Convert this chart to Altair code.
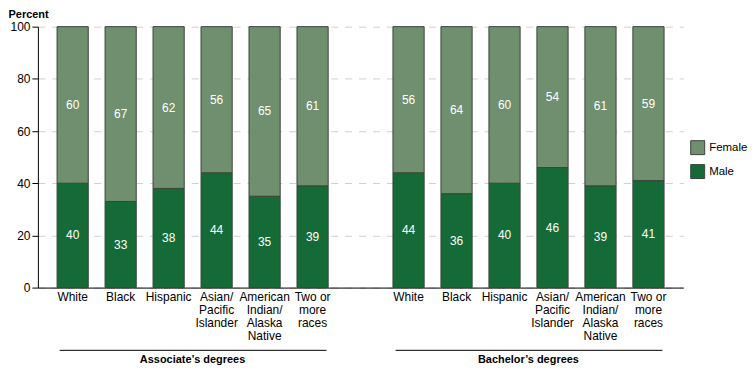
import altair as alt
import pandas as pd

# ---- data ----
races = ["White", "Black", "Hispanic", "Asian/~Pacific~Islander",
         "American~Indian/~Alaska~Native", "Two or~more~races"]
assoc_female = [60, 67, 62, 56, 65, 61]
assoc_male = [40, 33, 38, 44, 35, 39]
bach_female = [56, 64, 60, 54, 61, 59]
bach_male = [44, 36, 40, 46, 39, 41]
groups = ["Associate’s degrees", "Bachelor’s degrees"]
sexes = ["Female", "Male"]
colors = ["#6F8F6E", "#156B38"]

a_keys = ["A:" + r for r in races]
b_keys = ["B:" + r for r in races]
domain = a_keys + ["gap:"] + b_keys

rows = []
for keys, fem, mal in [(a_keys, assoc_female, assoc_male), (b_keys, bach_female, bach_male)]:
    for k, f, m in zip(keys, fem, mal):
        rows.append({"key": k, "sex": "Male", "ord": 0, "value": m})
        rows.append({"key": k, "sex": "Female", "ord": 1, "value": f})
df = pd.DataFrame(rows)

grp = pd.DataFrame({
    "label": groups,
    "start": [a_keys[0], b_keys[0]],
    "end": [a_keys[-1], b_keys[-1]],
    "mid": [a_keys[2], b_keys[2]],
})

FONT = "Liberation Sans"
W, H = 648, 262

xscale = alt.Scale(domain=domain, paddingInner=0.35, paddingOuter=0.4)

base = alt.Chart(df).transform_stack(
    stack="value", groupby=["key"], as_=["y0", "y1"],
    sort=[alt.SortField("ord", order="ascending")]
).transform_calculate(mid="(datum.y0 + datum.y1) / 2")

bars = base.mark_bar(stroke="#3A443A", strokeWidth=1).encode(
    x=alt.X("key:N", scale=xscale, sort=domain, title=None,
            axis=alt.Axis(labelExpr="split(split(datum.value, ':')[1], '~')",
                          labelAngle=0, labelAlign="center", labelBaseline="top",
                          labelPadding=4, labelLineHeight=13, ticks=False,
                          domainColor="#000000", domainWidth=1,
                          labelColor="#000000", labelFontSize=12, labelFont=FONT)),
    y=alt.Y("y0:Q", scale=alt.Scale(domain=[0, 100]),
            axis=alt.Axis(values=[0, 20, 40, 60, 80, 100], title="Percent",
                          titleAngle=0, titleX=-30, titleY=-9, titleAlign="left",
                          titleBaseline="alphabetic", titleFontWeight="bold",
                          titleFontSize=11, titleFont=FONT,
                          labelFontSize=12, labelFont=FONT, labelColor="#000000",
                          labelPadding=2,
                          tickColor="#000000", tickSize=6, domainColor="#000000",
                          grid=True, gridColor="#D0D0D0", gridDash=[7, 7])),
    y2="y1:Q",
    color=alt.Color("sex:N", scale=alt.Scale(domain=sexes, range=colors),
                    legend=alt.Legend(title=None, orient="none", legendX=655,
                                      legendY=114, symbolType="square",
                                      symbolSize=196, symbolStrokeColor="#3A443A",
                                      symbolStrokeWidth=1, symbolOpacity=1,
                                      labelFontSize=11.5, labelFont=FONT,
                                      labelColor="#000000",
                                      rowPadding=5, labelOffset=4)),
)

labels = base.mark_text(color="white", fontSize=12, font=FONT).encode(
    x=alt.X("key:N", scale=xscale, sort=domain),
    y=alt.Y("mid:Q"),
    text=alt.Text("value:Q"),
)

rules = alt.Chart(grp).mark_rule(color="#000000", strokeWidth=1, xOffset=-13, x2Offset=14).encode(
    x=alt.X("start:N", scale=xscale, sort=domain),
    x2="end:N",
    y=alt.value(H + 63),
)

gtext = alt.Chart(grp).mark_text(fontSize=11, fontWeight="bold", font=FONT, dx=24,
                                 baseline="middle").encode(
    x=alt.X("mid:N", scale=xscale, sort=domain),
    y=alt.value(H + 73),
    text="label:N",
)

chart = alt.layer(bars, labels, rules, gtext).properties(
    width=W, height=H, padding=0
).configure_view(stroke=None).configure_axis(labelFont=FONT)

chart.save("out.html", embed_options={"renderer": "svg", "actions": False})
